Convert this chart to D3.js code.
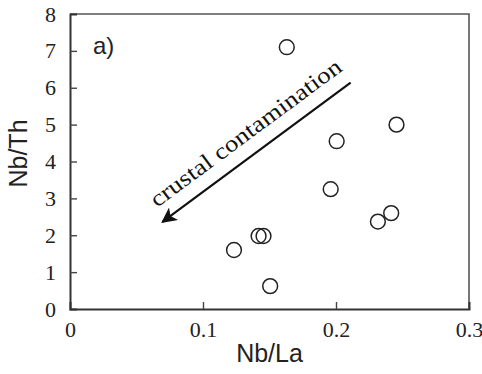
<!DOCTYPE html>
<html>
<head>
<meta charset="utf-8">
<script src="https://cdn.jsdelivr.net/npm/d3@7"></script>
<style>
  html, body { margin: 0; padding: 0; background: #fff; }
  svg { display: block; }
</style>
</head>
<body>
<svg id="chart" width="482" height="374"></svg>
<script>
// Sample ratios: Nb/La (x) against Nb/Th (y)
const nbLa = [0.163, 0.2455, 0.2005, 0.196, 0.2415, 0.2315, 0.1455, 0.1418, 0.1233, 0.1505];
const nbTh = [7.1, 5.0, 4.55, 3.25, 2.6, 2.37, 1.98, 1.98, 1.6, 0.62];
const xTicks = [0, 0.1, 0.2, 0.3];
const yTicks = [0, 1, 2, 3, 4, 5, 6, 7, 8];
// Trend arrow (data space): from upper right towards lower left
const arrowFrom = [0.211, 6.14];
const arrowTo = [0.0695, 2.36];

const svg = d3.select("#chart");
const plotL = 70, plotR = 469, plotT = 14, plotB = 309;

const x = d3.scaleLinear().domain([0, 0.3]).range([plotL, plotR]);
const y = d3.scaleLinear().domain([0, 8]).range([plotB, plotT]);

const serif = "'Liberation Serif', 'Times New Roman', serif";
const sans = "'Liberation Sans', Arial, sans-serif";

// Frame (top and right sides)
svg.append("path")
  .attr("d", `M${plotL},${plotT}H${plotR}V${plotB}`)
  .attr("fill", "none")
  .attr("stroke", "#555")
  .attr("stroke-width", 1.6);

// Bottom axis with inward ticks
const gx = svg.append("g").attr("transform", `translate(0,${plotB})`)
  .call(d3.axisBottom(x).tickValues(xTicks).tickSize(-7).tickPadding(12)
    .tickFormat(d => d === 0 ? "0" : d3.format(".1f")(d)));
gx.attr("font-family", null).attr("font-size", null);
gx.select(".domain").attr("stroke", "#333").attr("stroke-width", 2);
gx.selectAll(".tick line").attr("stroke", "#444").attr("stroke-width", 1.4);
gx.selectAll(".tick text").style("font-family", serif).style("font-size", "22px").attr("fill", "#222");

// Left axis with inward ticks
const gy = svg.append("g").attr("transform", `translate(${plotL},0)`)
  .call(d3.axisLeft(y).tickValues(yTicks).tickSize(-7).tickPadding(14).tickFormat(d3.format("d")));
gy.attr("font-family", null).attr("font-size", null);
gy.select(".domain").attr("stroke", "#333").attr("stroke-width", 2);
gy.selectAll(".tick line").attr("stroke", "#444").attr("stroke-width", 1.4);
gy.selectAll(".tick text").style("font-family", serif).style("font-size", "22px").attr("fill", "#222");
// Hide tick marks at the corners
gx.selectAll(".tick").filter(d => d === 0 || d === 0.3).select("line").remove();
gy.selectAll(".tick").filter(d => d === 0 || d === 8).select("line").remove();

// Axis titles
svg.append("text")
  .attr("x", (plotL + plotR) / 2).attr("y", 362)
  .attr("text-anchor", "middle")
  .style("font-family", sans).style("font-size", "25px").attr("fill", "#222")
  .text("Nb/La");
svg.append("text")
  .attr("transform", `translate(27,${(plotT + plotB) / 2 - 8}) rotate(-90)`)
  .attr("text-anchor", "middle")
  .style("font-family", sans).style("font-size", "25px").attr("fill", "#222")
  .text("Nb/Th");

// Panel label
svg.append("text")
  .attr("x", 93).attr("y", 54)
  .style("font-family", sans).style("font-size", "24px").attr("fill", "#222")
  .text("a)");

// Arrow marker
svg.append("defs").append("marker")
  .attr("id", "head")
  .attr("viewBox", "0 0 10 10")
  .attr("refX", 9).attr("refY", 5)
  .attr("markerWidth", 9).attr("markerHeight", 7)
  .attr("markerUnits", "strokeWidth")
  .attr("orient", "auto")
  .append("path").attr("d", "M0,0L10,5L0,10L2.5,5Z").attr("fill", "#111");

svg.append("line")
  .attr("x1", x(arrowFrom[0])).attr("y1", y(arrowFrom[1]))
  .attr("x2", x(arrowTo[0])).attr("y2", y(arrowTo[1]))
  .attr("stroke", "#111").attr("stroke-width", 2.2)
  .attr("marker-end", "url(#head)");

// Arrow caption along the arrow direction
const ang = Math.atan2(y(arrowFrom[1]) - y(arrowTo[1]), x(arrowFrom[0]) - x(arrowTo[0])) * 180 / Math.PI;
svg.append("text")
  .attr("transform", `translate(157,208) rotate(${ang})`)
  .style("font-family", serif).style("font-size", "23px").attr("fill", "#111")
  .attr("textLength", 232).attr("lengthAdjust", "spacingAndGlyphs")
  .text("crustal contamination");

// Data points
svg.append("g").selectAll("circle")
  .data(nbLa.map((v, i) => [v, nbTh[i]]))
  .join("circle")
  .attr("cx", d => x(d[0])).attr("cy", d => y(d[1]))
  .attr("r", 7.4)
  .attr("fill", "none")
  .attr("stroke", "#222").attr("stroke-width", 1.5);
</script>
</body>
</html>
